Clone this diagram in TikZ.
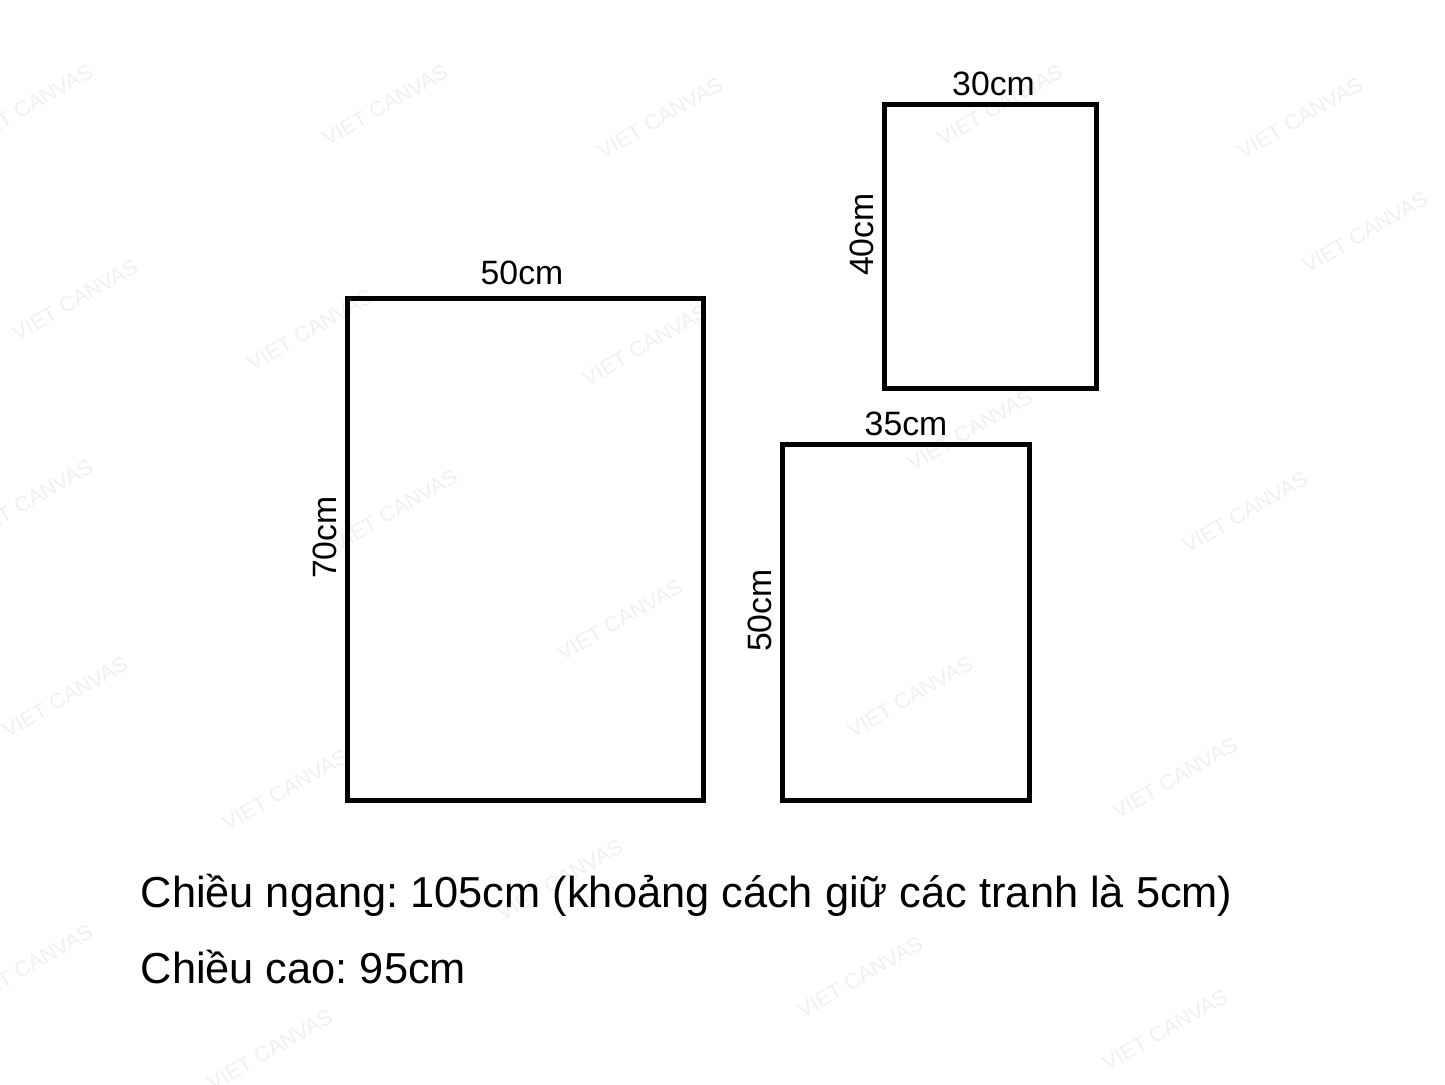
\documentclass[tikz,border=0pt]{standalone}
\usepackage{fontspec}
\setmainfont{Liberation Sans}
\usetikzlibrary{positioning}

\tikzset{
  frame/.style={draw, line width=0.05cm, inner sep=0pt},
  dimlabel/.style={inner sep=0pt, font=\fontsize{9.6}{11}\selectfont},
  dimvert/.style={dimlabel, rotate=90, anchor=south},
  note/.style={inner sep=0pt, anchor=base west, font=\fontsize{12.33}{15}\selectfont},
  wmark/.style={inner sep=0pt, rotate=30, text=black!6, font=\fontsize{6.1}{7}\selectfont}
}

\begin{document}
\frenchspacing
\begin{tikzpicture}[x=0.01cm, y=-0.01cm]
  \useasboundingbox (0,0) rectangle (1445,1084);

  % watermarks
  \foreach \px/\py [count=\i] in {30/105, 385/105, 660/118, 1000/105, 1300/118,
      1365/232, 75/300, 310/330, 645/345, 970/430, 30/500, 395/510, 1245/512,
      620/620, 65/697, 910/697, 285/790, 1175/778, 560/880, 30/965, 860/977,
      270/1050, 1165/1030}
    \node[wmark] (wm\i) at (\px,\py) {VIET CANVAS};

  % frames
  \node[frame, minimum width=3.56cm, minimum height=5.02cm] (big) at (525.5,549.5) {};
  \node[frame, minimum width=2.12cm, minimum height=2.84cm] (small) at (990.5,246.5) {};
  \node[frame, minimum width=2.47cm, minimum height=3.56cm] (mid) at (906,622.5) {};

  % sizes
  \node[dimlabel, above=0.1cm of big.north, xshift=-0.035cm] (bigW) {50cm};
  \node[dimvert] (bigH) at ([xshift=-0.07cm, yshift=0.12cm]big.west) {70cm};
  \node[dimlabel, above=0.05cm of small.north, xshift=0.03cm] (smallW) {30cm};
  \node[dimvert] (smallH) at ([xshift=-0.07cm, yshift=0.12cm]small.west) {40cm};
  \node[dimlabel, above=0.05cm of mid.north] (midW) {35cm};
  \node[dimvert] (midH) at ([xshift=-0.07cm, yshift=0.12cm]mid.west) {50cm};

  % totals
  \node[note] (totalW) at (140,907) {Chiều ngang: 105cm (khoảng cách giữ các tranh là 5cm)};
  \node[note] (totalH) at (140,983) {Chiều cao: 95cm};
\end{tikzpicture}
\end{document}
